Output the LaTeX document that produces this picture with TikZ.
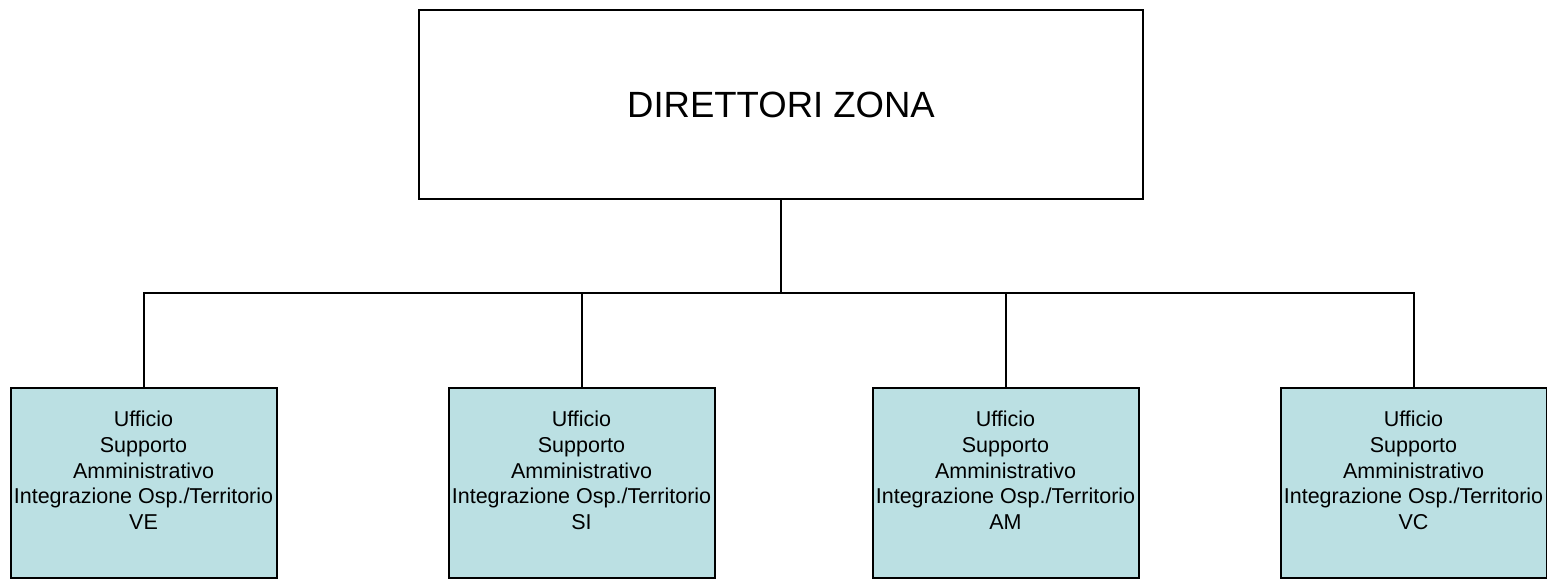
\documentclass[tikz,border=0pt]{standalone}
\usepackage{fontspec}
\setmainfont{Liberation Sans}
\usepackage{tikz}
\usetikzlibrary{positioning}
\definecolor{ufficiofill}{RGB}{187,224,227}

\begin{document}
\begin{tikzpicture}[x=1pt,y=-1pt,
    direttore/.style={draw=black, line width=2.8pt, fill=white, minimum width=724pt, minimum height=189pt, inner sep=0pt, font=\fontsize{36.5}{40}\selectfont},
    ufficio/.style={draw=black, line width=2pt, fill=ufficiofill, minimum width=266pt, minimum height=190pt, inner sep=0pt},
    testo/.style={align=center, inner sep=0pt, font=\fontsize{21.5}{25.7}\selectfont},
    ramo/.style={black, line width=2pt}]
         \useasboundingbox (0,0) rectangle (1547,580);
         % box in alto
         \node[direttore] (dir) at (781,104.5) {DIRETTORI ZONA};
         \coordinate (bus) at (781,293);
         % uffici di zona
         \node[ufficio] (ve) at (143.5,482.5) {};
         \node[ufficio] (si) at (581.5,482.5) {};
         \node[ufficio] (am) at (1005.5,482.5) {};
         \node[ufficio] (vc) at (1413.5,482.5) {};
         \node[testo] (tve) at (143.5,470.5) {Ufficio\\Supporto\\Amministrativo\\Integrazione Osp./Territorio\\VE};
         \node[testo] (tsi) at (581.5,470.5) {Ufficio\\Supporto\\Amministrativo\\Integrazione Osp./Territorio\\SI};
         \node[testo] (tam) at (1005.5,470.5) {Ufficio\\Supporto\\Amministrativo\\Integrazione Osp./Territorio\\AM};
         \node[testo] (tvc) at (1413.5,470.5) {Ufficio\\Supporto\\Amministrativo\\Integrazione Osp./Territorio\\VC};
         % collegamenti
         \draw[ramo] (dir.south) -- (bus);
         \draw[ramo] (ve.north) |- (bus);
         \draw[ramo] (si.north) |- (bus);
         \draw[ramo] (am.north) |- (bus);
         \draw[ramo] (vc.north) |- (bus);
    \end{tikzpicture}
\end{document}
